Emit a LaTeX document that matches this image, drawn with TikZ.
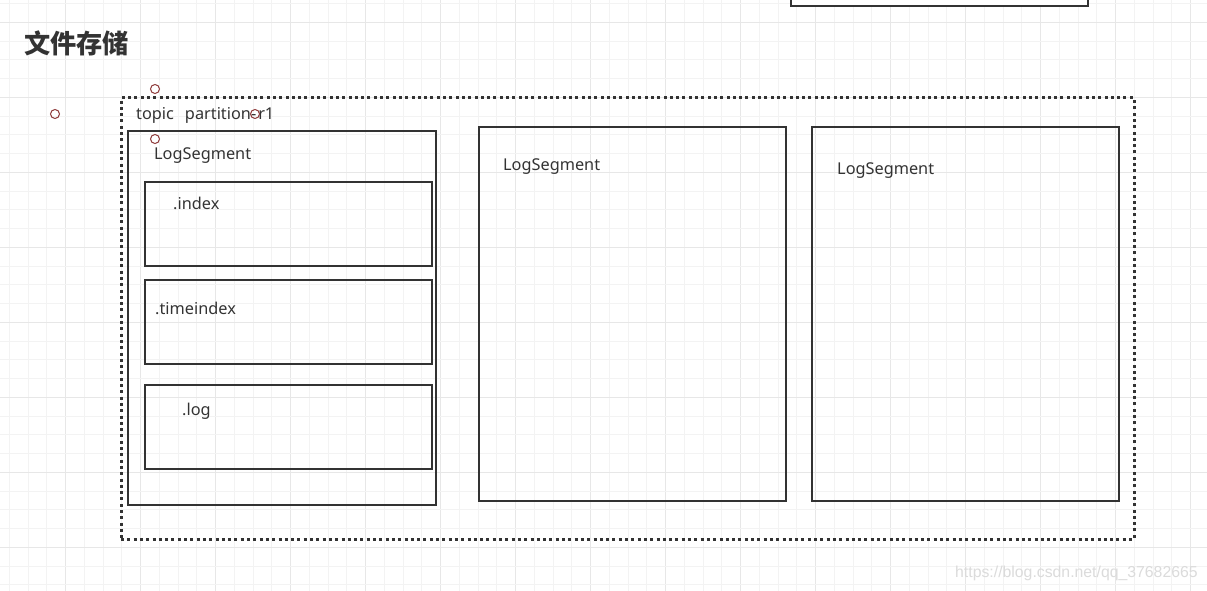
\documentclass[tikz,border=0pt]{standalone}
\usepackage{fontspec}
\setmainfont{Noto Sans}
\newfontfamily\cjk{Noto Sans CJK SC}
\newfontfamily\wmfont{Liberation Sans}
\definecolor{ink}{HTML}{333333}
\definecolor{gridminor}{HTML}{F3F3F3}
\definecolor{gridmajor}{HTML}{E7E7E7}
\definecolor{pin}{HTML}{8E3A3A}
\begin{document}
\begin{tikzpicture}[x=1pt,y=-1pt,
  box/.style={draw=ink, line width=2pt, rectangle, anchor=north west, inner sep=0pt, outer sep=0pt},
  dotbox/.style={draw=ink, line width=3pt, dash pattern=on 3pt off 3.3pt, rectangle, anchor=north west, inner sep=0pt, outer sep=0pt},
  lbl/.style={anchor=base west, inner sep=0pt, text=ink, font=\fontsize{16.3}{19}\selectfont},
  pinpt/.style={draw=pin, line width=1pt, circle, minimum size=9pt, inner sep=0pt},
]
\useasboundingbox (0,0) rectangle (1207,591);
\fill[white] (0,0) rectangle (1207,591);
% grid
\foreach \k in {0,...,64}{
  \pgfmathsetmacro{\xx}{9.45+18.75*\k}
  \pgfmathtruncatemacro{\mm}{mod(\k,4)}
  \ifnum\mm=3 \draw[gridmajor, line width=1.1pt] (\xx,0) -- (\xx,591);
  \else \draw[gridminor, line width=1pt] (\xx,0) -- (\xx,591); \fi
}
\foreach \k in {0,...,31}{
  \pgfmathsetmacro{\yy}{3.55+18.75*\k}
  \pgfmathtruncatemacro{\mm}{mod(\k,4)}
  \ifnum\mm=1 \draw[gridmajor, line width=1.1pt] (0,\yy) -- (1207,\yy);
  \else \draw[gridminor, line width=1pt] (0,\yy) -- (1207,\yy); \fi
}
% title
\node[anchor=west, inner sep=0pt, text=ink, font=\cjk\bfseries\fontsize{26.2}{30}\selectfont] (title) at (24,43) {文件存储};
% top right partial box
\node[box, fill=white, minimum width=297pt, minimum height=20pt, anchor=south west] (topbox) at (791,6) {};
% outer dotted partition box
\node[dotbox, minimum width=1013pt, minimum height=441pt] (part) at (121,98) {};
\node[lbl] (partlbl) at (136,120) {topic\hspace{11pt}partition-\hspace{2pt}r1};
% segment 1
\node[box, minimum width=308pt, minimum height=373pt] (seg1) at (127.5,131.5) {};
\node[lbl] (seg1lbl) at (154,159) {LogSegment};
\node[box, minimum width=287pt, minimum height=84pt] (idx) at (144.5,182) {};
\node[lbl] (idxlbl) at (173,209) {.index};
\node[box, minimum width=287pt, minimum height=84pt] (tidx) at (144.5,280) {};
\node[lbl] (tidxlbl) at (155,314) {.timeindex};
\node[box, minimum width=287pt, minimum height=84pt] (logf) at (144.5,385) {};
\node[lbl] (loglbl) at (182,415) {.log};
% segment 2 and 3
\node[box, minimum width=307pt, minimum height=373pt] (seg2) at (478.5,127.5) {};
\node[lbl] (seg2lbl) at (503,170) {LogSegment};
\node[box, minimum width=307pt, minimum height=373pt] (seg3) at (811.5,127.5) {};
\node[lbl] (seg3lbl) at (837,174) {LogSegment};
% connection point markers
\node[pinpt] (p1) at (155,89) {};
\node[pinpt] (p2) at (55,114) {};
\node[pinpt] (p3) at (255,114) {};
\node[pinpt] (p4) at (155,139) {};
% watermark
\node[anchor=west, inner sep=0pt, text=black!14, font=\wmfont\fontsize{15.8}{18}\selectfont] (wm) at (955,573) {https://blog.csdn.net/qq\_37682665};
\end{tikzpicture}
\end{document}
